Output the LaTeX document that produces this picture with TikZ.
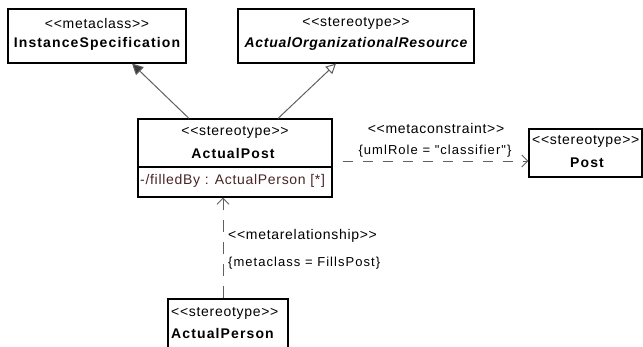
\documentclass[tikz,border=0pt]{standalone}
\usepackage{fontspec}
\setmainfont{Liberation Sans}[Ligatures=TeXOff, LetterSpace=5]
\usetikzlibrary{arrows.meta}
\definecolor{linegray}{RGB}{96,96,96}
\definecolor{tipgray}{RGB}{60,60,60}
\definecolor{attrbrown}{RGB}{72,36,36}

\begin{document}
\begin{tikzpicture}[x=1pt, y=-1pt,
    box/.style={draw, line width=1.1pt, rectangle, inner sep=0pt},
    txt/.style={inner sep=0pt, font=\fontsize{14}{16}\selectfont},
    clsname/.style={inner sep=0pt, font=\fontsize{14}{16}\selectfont\bfseries\addfontfeatures{LetterSpace=8}},
    lbl/.style={inner sep=0pt, font=\fontsize{13}{15}\selectfont\addfontfeatures{LetterSpace=8}},
    rel/.style={draw=linegray, line width=1pt}]
    \clip (0,0) rectangle (643,346);

    % Define the boxes
    \node[box, minimum width=178, minimum height=54] (IS) at (97,36) {};
    \node[box, minimum width=236, minimum height=54] (AOR) at (356,36) {};
    \node[box, minimum width=194, minimum height=78] (AP) at (235,158) {};
    \node[box, minimum width=113, minimum height=48] (Post) at (585.5,153) {};
    \node[box, minimum width=120, minimum height=53] (APer) at (228,325.5) {};
    \draw[line width=1.1pt] (AP.west |- 0,167) -- (AP.east |- 0,167);

    % Texts in the boxes
    \node[txt] (ISs) at (97,23) {<<metaclass>>};
    \node[clsname] (ISn) at (97,44) {InstanceSpecification};
    \node[txt] (AORs) at (356,23) {<<stereotype>>};
    \node[clsname, font=\fontsize{14}{16}\selectfont\bfseries\itshape] (AORn) at (356,44) {ActualOrganizationalResource};
    \node[txt] (APs) at (235,132) {<<stereotype>>};
    \node[clsname] (APn) at (233,153) {ActualPost};
    \node[txt, anchor=west, text=attrbrown] (APa) at (140,181) {-/filledBy : ActualPerson [*]};
    \node[txt, anchor=west] (Posts) at (532,141) {<<stereotype>>};
    \node[clsname] (Postn) at (587,163) {Post};
    \node[txt, anchor=west] (APers) at (171,313) {<<stereotype>>};
    \node[clsname, anchor=west] (APern) at (171,333) {ActualPerson};

    % Relations
    \draw[rel, -{Triangle[length=11pt, width=11pt, fill=tipgray]}] ([xshift=-46pt]AP.north) -- ([xshift=35pt]IS.south);
    \draw[rel, -{Triangle[open, length=10pt, width=10pt]}] ([xshift=43pt]AP.north) -- ([xshift=-20pt]AOR.south);
    \draw[rel, dash pattern=on 10pt off 10pt, dash phase=10pt, -{Straight Barb[length=6pt, width=12pt]}] ([yshift=-3pt]AP.east) -- ([yshift=-8pt]Post.west);
    \draw[rel, dash pattern=on 12pt off 10pt, -{Straight Barb[length=6pt, width=12pt]}] ([xshift=-5pt]APer.north) -- ([xshift=-12pt]AP.south);

    % Relation labels
    \node[txt] (mcS) at (436,128) {<<metaconstraint>>};
    \node[lbl] (mcR) at (435,151) {\{umlRole = "classifier"\}};
    \node[txt, anchor=west] (mrS) at (228,236) {<<metarelationship>>};
    \node[lbl, anchor=west] (mrR) at (228,263) {\{metaclass = FillsPost\}};
\end{tikzpicture}
\end{document}
